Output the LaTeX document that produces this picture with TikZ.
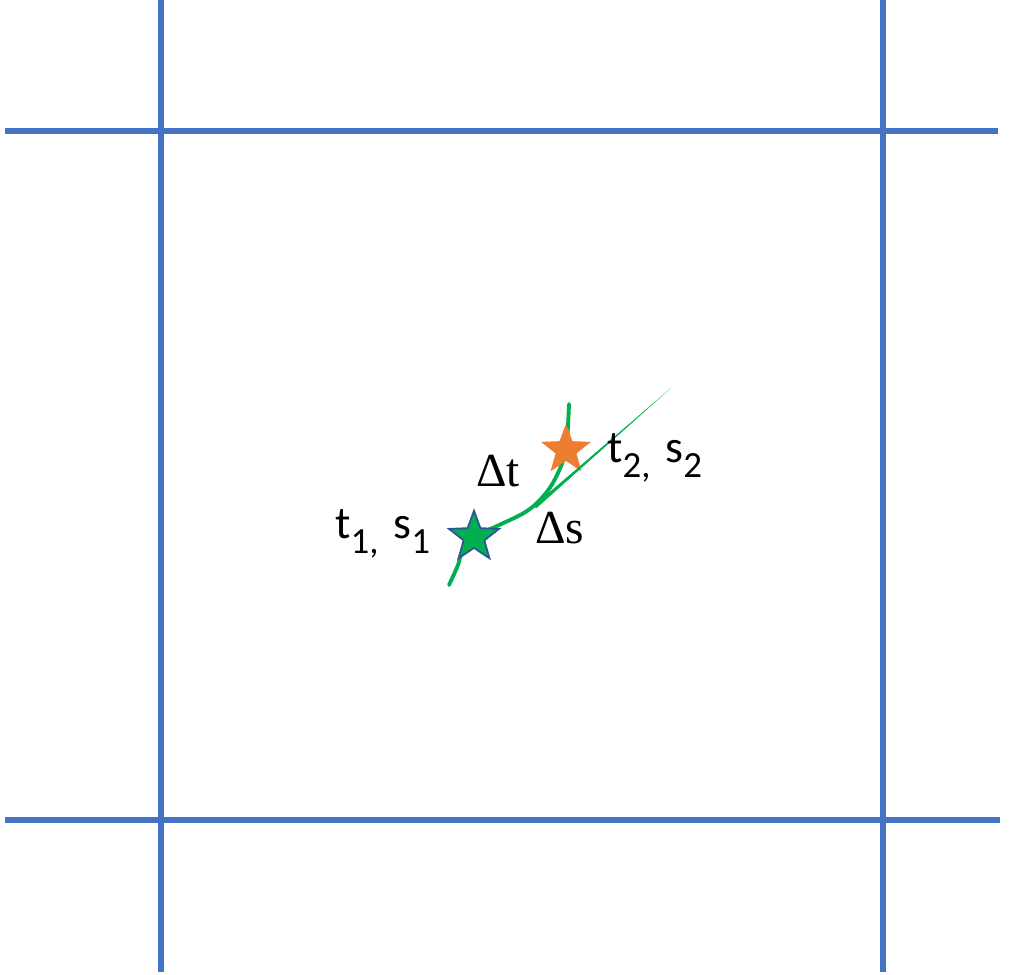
\documentclass[tikz,border=0pt]{standalone}
\usepackage{fontspec}
\setmainfont{Carlito}
\newfontfamily\deltafont{Liberation Serif}
\usetikzlibrary{shapes.geometric}
\definecolor{gridblue}{HTML}{4472C4}
\definecolor{trackgreen}{HTML}{00B050}
\definecolor{starorange}{HTML}{ED7D31}
\definecolor{starrim}{HTML}{2F5597}
\newcommand{\lowsub}[1]{\raisebox{-0.34em}{\fontsize{21}{24}\selectfont #1}}

\begin{document}
\begin{tikzpicture}[x=0.02cm, y=-0.02cm,
  grid/.style={draw=gridblue, line width=3.4pt},
  track/.style={draw=trackgreen, line width=2.2pt, line cap=round},
  mark star/.style={star, star points=5, star point ratio=2.4, inner sep=0pt, minimum size=1.05cm},
  lbl/.style={anchor=base west, inner sep=0pt, font=\fontsize{26}{30}\selectfont},
  dlbl/.style={anchor=base west, inner sep=0pt, font=\deltafont\fontsize{27}{30}\selectfont}]
\useasboundingbox (0,0) rectangle (1030,974);
% grid lines
\coordinate (v1t) at (161,0);   \coordinate (v1b) at (161,972);
\coordinate (v2t) at (883,0);   \coordinate (v2b) at (883,972);
\coordinate (h1l) at (5,131);   \coordinate (h1r) at (998,131);
\coordinate (h2l) at (5,820);   \coordinate (h2r) at (1000,820);
\draw[grid] (v1t) -- (v1b);
\draw[grid] (v2t) -- (v2b);
\draw[grid] (h1l) -- (h1r);
\draw[grid] (h2l) -- (h2r);
% track
\coordinate (c1) at (474,537);
\coordinate (c2) at (566,450);
\coordinate (trk0) at (449,585);
\coordinate (trk1) at (569,404);
\draw[track] plot[smooth, tension=0.6] coordinates {(trk0) (458,565) (462,552) (c1) (497,526) (527,511) (546,493) (558,473) (c2) (568,425) (trk1)};
\node[mark star, fill=trackgreen, draw=starrim, line width=1pt] (p1) at (c1) {};
\node[mark star, fill=starorange] (p2) at (c2) {};
% straight segment
\coordinate (seg0) at (535,507);
\coordinate (seg1) at (671,388);
\fill[trackgreen] ([shift={(-1.2,-1.4)}]seg0) -- (seg1) -- ([shift={(1.2,1.4)}]seg0) -- cycle;
% labels
\node[lbl] (l1) at (335,538) {t\lowsub{1,}\hspace{0.1em} s\lowsub{1}};
\node[lbl] (l2) at (607,462) {t\lowsub{2,}\hspace{0.1em} s\lowsub{2}};
\node[dlbl] (dt) at (476,486) {Δt};
\node[dlbl] (ds) at (535,543) {Δs};
\end{tikzpicture}
\end{document}
